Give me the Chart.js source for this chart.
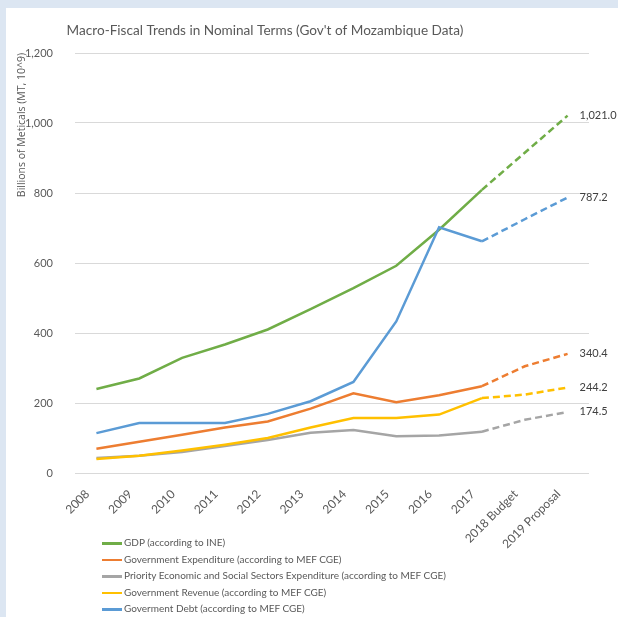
<!DOCTYPE html>
<html>
<head>
<meta charset="utf-8">
<script src="https://cdn.jsdelivr.net/npm/chart.js@4/dist/chart.umd.min.js"></script>
<style>
  html, body { margin: 0; padding: 0; background: #dce6f2; }
  #panel { position: absolute; left: 6px; top: 8px; width: 612px; height: 609px; background: #fff; }
  #wrap { position: absolute; left: 0; top: 0; width: 618px; height: 617px; }
  #legend { position: absolute; left: 102px; top: 534px; font-family: Lato, "Open Sans", sans-serif; font-size: 10px; color: #595959; }
  #legend .item { height: 16.5px; line-height: 16.5px; white-space: nowrap; }
  #legend .swatch { display: inline-block; width: 20px; height: 2.5px; vertical-align: middle; margin-right: 2px; }
</style>
</head>
<body>
<div id="panel"></div>
<div id="wrap"><canvas id="macroChart" width="618" height="617"></canvas></div>
<div id="legend"></div>
<script>
const labels = ['2008', '2009', '2010', '2011', '2012', '2013', '2014', '2015', '2016', '2017', '2018 Budget', '2019 Proposal'];
const gdp = [240, 270, 329, 367, 410, 468, 528, 592, 695, 809, 915, 1021.0];
const expenditure = [69, 89, 109, 130, 147, 184, 228, 202, 222, 248, 305, 340.4];
const priority = [43, 49, 60, 77, 94, 115, 123, 105, 107, 118, 152, 174.5];
const revenue = [40, 49, 64, 81, 100, 130, 157, 157, 167, 214, 224, 244.2];
const debt = [114, 143, 143, 143, 169, 205, 260, 433, 702, 662, 725, 787.2];
const seriesNames = [
    'GDP (according to INE)',
    'Government Expenditure (according to MEF CGE)',
    'Priority Economic and Social Sectors Expenditure (according to MEF CGE)',
    'Government Revenue (according to MEF CGE)',
    'Goverment Debt (according to MEF CGE)'
];
const colors = ['#70ad47', '#ed7d31', '#a5a5a5', '#ffc000', '#5b9bd5'];
const lastActual = 9; // 2017, projections after this are dashed

const textColor = '#595959';
const font = 'Lato, "Open Sans", sans-serif';

const endLabels = {
    id: 'endLabels',
    afterDatasetsDraw(chart) {
        const ctx = chart.ctx;
        ctx.save();
        ctx.font = `11px ${font}`;
        ctx.fillStyle = '#404040';
        ctx.textBaseline = 'middle';
        chart.data.datasets.forEach((ds, i) => {
            const meta = chart.getDatasetMeta(i);
            const pt = meta.data[meta.data.length - 1];
            const v = ds.data[ds.data.length - 1];
            ctx.fillText(v.toLocaleString('en-US', { minimumFractionDigits: 1, maximumFractionDigits: 1 }), pt.x + 12, pt.y);
        });
        ctx.restore();
    }
};

const titles = {
    id: 'titles',
    afterDraw(chart) {
        const ctx = chart.ctx;
        ctx.save();
        ctx.fillStyle = textColor;
        ctx.font = `13.6px ${font}`;
        ctx.textAlign = 'center';
        ctx.textBaseline = 'middle';
        ctx.fillText("Macro-Fiscal Trends in Nominal Terms (Gov't of Mozambique Data)", 265, 31);
        ctx.font = '10.5px "Open Sans", sans-serif';
        ctx.translate(22, 125);
        ctx.rotate(-Math.PI / 2);
        ctx.fillText('Billions of Meticals (MT, 10^9)', 0, 0);
        ctx.restore();
    }
};

const datasets = [gdp, expenditure, priority, revenue, debt].map((d, i) => ({
    label: seriesNames[i],
    data: d,
    borderColor: colors[i],
    backgroundColor: colors[i],
    borderWidth: 2.5,
    pointRadius: 0,
    tension: 0,
    order: 4 - i,
    segment: { borderDash: c => c.p0DataIndex >= lastActual ? [7, 4] : undefined }
}));

new Chart(document.getElementById('macroChart'), {
    type: 'line',
    data: { labels: labels, datasets: datasets },
    plugins: [endLabels, titles],
    options: {
        responsive: false, animation: false,
        layout: { padding: { top: 53, right: 29, left: 0, bottom: 0 } },
        plugins: { legend: { display: false }, tooltip: { enabled: false } },
        scales: {
            x: {
                offset: true,
                grid: { display: false },
                border: { display: false },
                ticks: { color: textColor, font: { family: font, size: 12 }, maxRotation: 45, minRotation: 45, padding: 6, labelOffset: -9, autoSkip: false },
                afterFit: s => { s.height = 144; }
            },
            y: {
                min: 0, max: 1200,
                grid: { color: '#d9d9d9', drawTicks: false },
                border: { display: false },
                ticks: { stepSize: 200, color: textColor, font: { family: font, size: 11 }, padding: 22, callback: v => v.toLocaleString('en-US') },
                afterFit: s => { s.width = 75; }
            }
        }
    }
});

const legendBox = document.getElementById('legend');
seriesNames.forEach((name, i) => {
    legendBox.innerHTML += `<div class="item"><span class="swatch" style="background:${colors[i]}"></span>${name}</div>`;
});
</script>
</body>
</html>
